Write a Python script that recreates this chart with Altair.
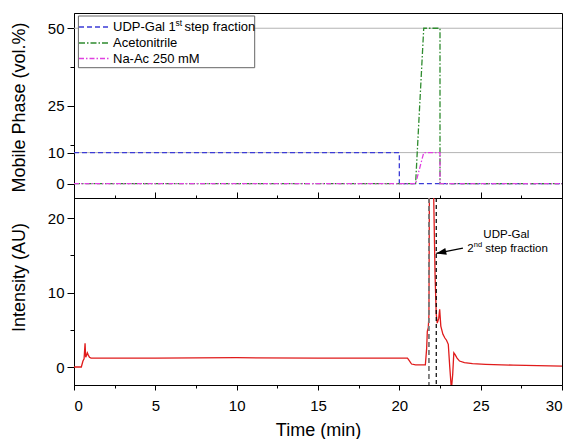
import altair as alt
import pandas as pd

FONT = "Liberation Sans"

# ---------------- top panel: mobile phase composition (vol.%) ----------------
series_names = ["UDP-Gal 1st step fraction", "Acetonitrile", "Na-Ac 250 mM"]
series_colors = ["#3b3bd6", "#2e8b2e", "#e040e0"]
udp1_t = [0, 20, 20, 30]
udp1_v = [10, 10, 0, 0]
acn_t = [0, 21, 21.5, 22.5, 22.5, 30]
acn_v = [0, 0, 50, 50, 0, 0]
naac_t = [0, 21, 21.5, 22.5, 22.5, 30]
naac_v = [0, 0, 10, 10, 0, 0]
grid_levels = [10, 50]
top_tick_values = [0, 10, 12.5, 25, 37.5, 50]

# ---------------- bottom panel: detector intensity (AU) ----------------
int_t = [0, 0.45, 0.55, 0.62, 0.68, 0.72, 0.76, 0.82, 0.88, 0.95, 1.05, 5, 10, 15,
         20.5, 20.6, 20.75, 21.0, 21.6, 21.68, 21.72, 21.78, 21.82, 21.86, 21.95,
         22.05, 22.12, 22.2, 22.27, 22.33, 22.42, 22.48, 22.55, 22.68, 22.8, 22.9,
         23.01, 23.1, 23.2, 23.28, 23.35, 23.42, 23.55, 23.7, 24.0, 24.5, 25.3, 27, 30]
int_v = [0, 0, 0.8, 1.1, 3.2, 1.3, 1.5, 1.9, 1.6, 1.3, 1.2, 1.2, 1.25, 1.2,
         1.2, 0.9, 0.4, 0.3, 0.3, 2.5, 4.8, 5.3, 7, 30, 45,
         32, 22, 12, 7.1, 5.9, 6.5, 7.75, 5.5, 4.4, 3.9, 3.6,
         3.05, 0, -3, -1, 1.9, 1.7, 1.2, 0.8, 0.58, 0.45, 0.36, 0.25, 0.13]
fraction_lines_t = [21.82, 22.27]
fraction_line_colors = ["#7a7a7a", "#000000"]
bottom_tick_values = [0, 5, 10, 15, 20]
x_tick_values = [0, 2.5, 5, 7.5, 10, 12.5, 15, 17.5, 20, 22.5, 25, 27.5, 30]

# annotation anchor points (data coordinates)
ann_title_t, ann_title_v = 26.58, 17.3
ann_line2_t, ann_line2_v = 24.18, 15.5
arrow_t = [23.91, 22.27]
arrow_v = [16.0, 15.28]

X_DOMAIN = [0, 30]
TOP_DOMAIN = [-4.6, 54.9]
BOT_DOMAIN = [-2.42, 22.73]
W = 488

xscale = alt.Scale(domain=X_DOMAIN, nice=False, zero=False)
ytop = alt.Scale(domain=TOP_DOMAIN, nice=False, zero=False)
ybot = alt.Scale(domain=BOT_DOMAIN, nice=False, zero=False)

one = pd.DataFrame({"k": [0]})


def df_series(t, v):
    return pd.DataFrame({"t": t, "v": v, "i": list(range(len(t)))})


minor_top = "datum.value == 12.5 || datum.value == 37.5"
top_axis = alt.Axis(
    values=top_tick_values,
    labelExpr=f"({minor_top}) ? '' : datum.label",
    tickSize={"condition": {"test": minor_top, "value": 4}, "value": 7},
    labelFontSize=15, labelPadding=3, grid=False,
    title="Mobile Phase (vol.%)", titleFontSize=18, titleAngle=270,
    titleX=-49.5, titleY=94, titleBaseline="alphabetic",
)
Y_TOP = alt.Y("v:Q", scale=ytop, axis=top_axis)
X_TOP = alt.X("t:Q", scale=xscale, axis=None)

grid = alt.Chart(pd.DataFrame({"v": grid_levels})).mark_rule(
    color="#b4b4b4", strokeWidth=1
).encode(y=Y_TOP)

dashes = [[5, 3], [6, 2, 1.5, 2], [5, 2, 1.5, 2]]
series_data = [(udp1_t, udp1_v), (acn_t, acn_v), (naac_t, naac_v)]
lines = []
for (t, v), col, dash in zip(series_data, series_colors, dashes):
    lines.append(
        alt.Chart(df_series(t, v)).mark_line(color=col, strokeDash=dash, strokeWidth=1.3).encode(
            x=X_TOP, y=Y_TOP, order="i:Q",
        )
    )

# legend box (drawn by hand to allow superscripts)
legend_box = alt.Chart(one).mark_rect(fill="white", stroke="#666666", strokeWidth=1).encode(
    x=alt.value(4.4), x2=alt.value(180.7), y=alt.value(3), y2=alt.value(54.7)
)
rows_y = [14, 30, 45.5]
legend_parts = [legend_box]
for ry, col, dash in zip(rows_y, series_colors, dashes):
    legend_parts.append(
        alt.Chart(one).mark_rule(color=col, strokeDash=dash, strokeWidth=1.3).encode(
            x=alt.value(5), x2=alt.value(35), y=alt.value(ry)
        )
    )
txt = dict(font=FONT, fontSize=13, align="left", baseline="middle", color="black")
legend_parts.append(alt.Chart(one).mark_text(text="UDP-Gal 1", **txt).encode(x=alt.value(39), y=alt.value(rows_y[0])))
legend_parts.append(alt.Chart(one).mark_text(text="st", font=FONT, fontSize=8.5, align="left",
                                             baseline="middle", color="black").encode(
    x=alt.value(101.5), y=alt.value(rows_y[0] - 4.5)))
legend_parts.append(alt.Chart(one).mark_text(text="step fraction", **txt).encode(x=alt.value(110.5), y=alt.value(rows_y[0])))
legend_parts.append(alt.Chart(one).mark_text(text=series_names[1], **txt).encode(x=alt.value(39), y=alt.value(rows_y[1])))
legend_parts.append(alt.Chart(one).mark_text(text=series_names[2], **txt).encode(x=alt.value(39), y=alt.value(rows_y[2])))

top = alt.layer(grid, *lines, *legend_parts).properties(width=W, height=185)

# ---------------- bottom panel ----------------
minor_x = "datum.value % 5 != 0"
x_axis_bottom = alt.Axis(
    values=x_tick_values, orient="bottom",
    labelExpr=f"({minor_x}) ? '' : datum.label",
    tickSize={"condition": {"test": minor_x, "value": 3}, "value": 5},
    labelFontSize=15, labelPadding=8, grid=False,
    title="Time (min)", titleFontSize=18, titleY=50.6, titleBaseline="alphabetic",
)
x_axis_top = alt.Axis(
    values=x_tick_values, orient="top", labels=False, domain=False, title=None,
    tickSize={"condition": {"test": minor_x, "value": 3}, "value": 6}, grid=False,
)
minor_b = "datum.value == 5 || datum.value == 15"
y_axis_bottom = alt.Axis(
    values=bottom_tick_values,
    labelExpr=f"({minor_b}) ? '' : datum.label",
    tickSize={"condition": {"test": minor_b, "value": 4}, "value": 7},
    labelFontSize=15, labelPadding=3, grid=False,
    title="Intensity (AU)", titleFontSize=18, titleAngle=270,
    titleX=-49.5, titleY=79, titleBaseline="alphabetic",
)
Y_BOT = alt.Y("v:Q", scale=ybot, axis=y_axis_bottom)

trace = alt.Chart(df_series(int_t, int_v)).mark_line(color="#e01b1b", strokeWidth=1.3, clip=True).encode(
    x=alt.X("t:Q", scale=xscale, axis=x_axis_bottom),
    y=Y_BOT,
    order="i:Q",
)

frac_df = pd.DataFrame({"t": fraction_lines_t, "c": fraction_line_colors})
frac_gray = alt.Chart(frac_df.iloc[[0]]).mark_rule(color=fraction_line_colors[0], strokeDash=[5, 3],
                                                   strokeWidth=1.8).encode(
    x=alt.X("t:Q", scale=xscale, axis=x_axis_top))
frac_black = alt.Chart(frac_df.iloc[[1]]).mark_rule(color=fraction_line_colors[1], strokeDash=[4, 3],
                                                    strokeWidth=1.2).encode(
    x=alt.X("t:Q", scale=xscale, axis=None))

ann_df = pd.DataFrame({"t": [ann_title_t], "v": [ann_title_v]})
ann2_df = pd.DataFrame({"t": [ann_line2_t], "v": [ann_line2_v]})
atxt = dict(font=FONT, fontSize=11.5, baseline="alphabetic", color="black")
enc_ann = dict(x=alt.X("t:Q", scale=xscale, axis=None), y=Y_BOT)
ann_a = alt.Chart(ann_df).mark_text(text="UDP-Gal", align="center", **atxt).encode(**enc_ann)
ann_b = alt.Chart(ann2_df).mark_text(text="2", align="left", **atxt).encode(**enc_ann)
ann_c = alt.Chart(ann2_df).mark_text(text="nd", align="left", dx=6.4, dy=-4.5, font=FONT, fontSize=7.5,
                                     baseline="alphabetic", color="black").encode(**enc_ann)
ann_d = alt.Chart(ann2_df).mark_text(text="step fraction", align="left", dx=17.9, **atxt).encode(**enc_ann)

arrow_df = pd.DataFrame({"t": arrow_t, "v": arrow_v, "i": [0, 1]})
arrow_line = alt.Chart(arrow_df).mark_line(color="black", strokeWidth=1.3).encode(order="i:Q", **enc_ann)
arrow_head = alt.Chart(arrow_df.iloc[[1]]).mark_point(
    shape="M0,0 L2,-0.7 L2,0.7 Z", size=100, filled=True, color="black", opacity=1, angle=348
).encode(**enc_ann)

bottom = alt.layer(trace, frac_gray, frac_black, ann_a, ann_b, ann_c, ann_d, arrow_line, arrow_head).resolve_axis(
    x="independent"
).properties(width=W, height=187)

chart = alt.vconcat(top, bottom, spacing=0, bounds="flush").properties(
    padding={"left": 10, "top": 12, "right": 2, "bottom": 0}
).configure_view(stroke="black", strokeWidth=1).configure_axis(
    labelFont=FONT, titleFont=FONT, labelColor="black", titleColor="black",
    tickColor="black", domainColor="black", titleFontWeight="normal", tickWidth=1, domainWidth=1,
)

chart.save("out.html", embed_options={"renderer": "svg", "actions": False})
